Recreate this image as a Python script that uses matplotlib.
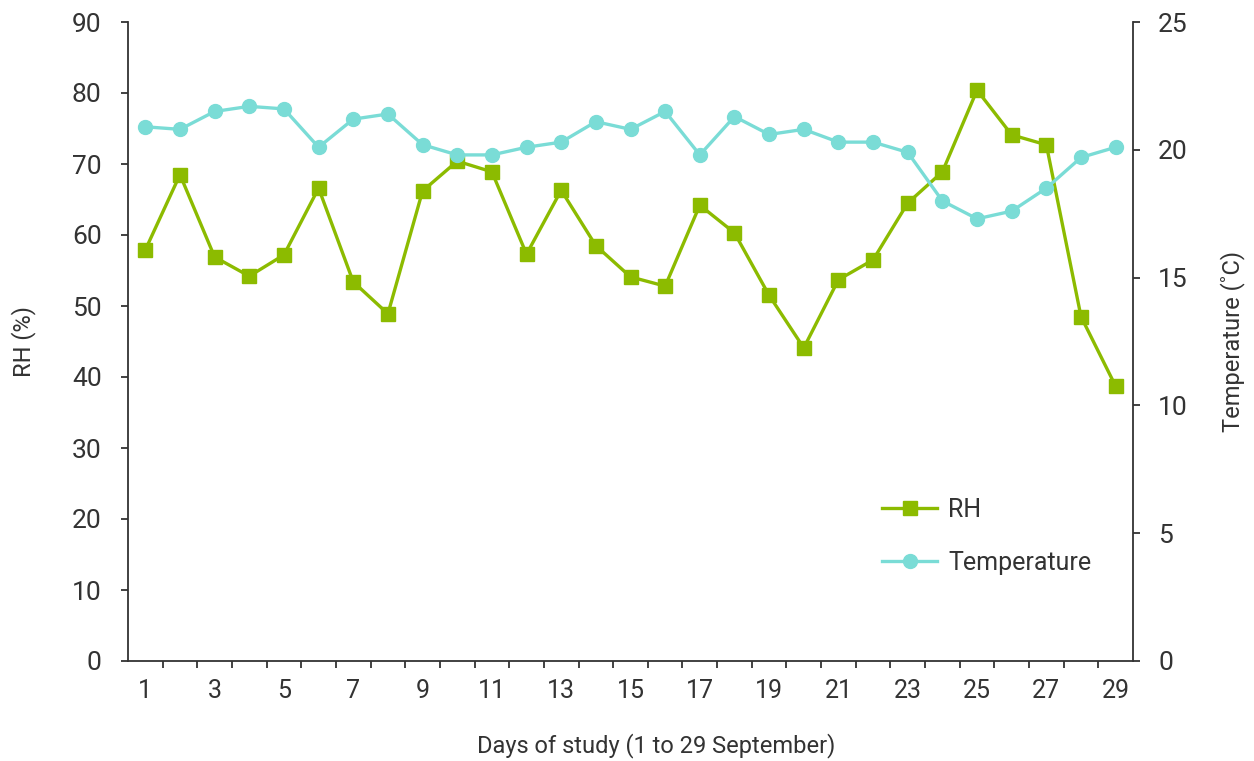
import matplotlib
matplotlib.use("Agg")
import matplotlib.pyplot as plt
import numpy as np

plt.rcParams['font.family'] = ['Roboto', 'DejaVu Sans']

# data
days = list(range(1, 30))
rh = [57.9, 68.5, 56.9, 54.2, 57.2, 66.6, 53.4, 48.9, 66.2, 70.4,
      68.9, 57.3, 66.3, 58.5, 54.1, 52.8, 64.2, 60.3, 51.5, 44.1,
      53.7, 56.5, 64.5, 68.9, 80.4, 74.1, 72.7, 48.5, 38.7]
temp = [20.9, 20.8, 21.5, 21.7, 21.6, 20.1, 21.2, 21.4, 20.2, 19.8,
        19.8, 20.1, 20.3, 21.1, 20.8, 21.5, 19.8, 21.3, 20.6, 20.8,
        20.3, 20.3, 19.9, 18.0, 17.3, 17.6, 18.5, 19.7, 20.1]
day_labels = [str(d) for d in range(1, 30, 2)]

green = '#8cbb00'
cyan = '#7adcd6'
dark = '#333333'

fig = plt.figure(figsize=(12.54, 7.61), dpi=100)
ax = fig.add_axes([128/1254, 1 - 661/761, (1133 - 128)/1254, (661 - 22)/761])
ax2 = ax.twinx()

l1, = ax.plot(days, rh, color=green, lw=2.4, marker='s', ms=10,
              label='RH', clip_on=False)
l2, = ax2.plot(days, temp, color=cyan, lw=2.4, marker='o', ms=10,
               label='Temperature', clip_on=False)

ax.set_xlim(0.5, 29.5)
ax.set_ylim(0, 90)
ax2.set_ylim(0, 25)
ax.set_yticks(range(0, 91, 10))
ax2.set_yticks(range(0, 26, 5))
ax.set_xticks(range(1, 30, 2))
ax.set_xticklabels(day_labels)
ax.set_xticks(np.arange(1.5, 29.5, 1), minor=True)

for a in (ax, ax2):
    for s in a.spines.values():
        s.set_color(dark)
        s.set_linewidth(1.3)
    a.spines['top'].set_visible(False)
ax.spines['right'].set_visible(False)
ax2.spines['left'].set_visible(False)
ax2.spines['bottom'].set_visible(False)

ax.tick_params(axis='x', which='major', length=0, pad=13, labelsize=18, colors=dark)
ax.tick_params(axis='x', which='minor', length=5, width=1.3, color=dark)
ax.tick_params(axis='y', length=5, width=1.3, pad=14, labelsize=19, colors=dark)
ax2.tick_params(axis='y', length=5, width=1.3, pad=13, labelsize=19, colors=dark)

ax.set_ylabel('RH (%)', fontsize=17, color=dark)
ax.yaxis.set_label_coords(-0.092, 0.5)
ax2.set_ylabel('Temperature (˚C)', fontsize=17, color=dark)
ax2.yaxis.set_label_coords(1.087, 0.5)
ax.set_xlabel('Days of study (1 to 29 September)', fontsize=17, color=dark)
ax.xaxis.set_label_coords(0.526, -0.113)

fig.legend(handles=[l1, l2], loc='center left', frameon=False,
           bbox_to_anchor=(882/1254, 1 - 536.5/761), borderpad=0, borderaxespad=0,
           fontsize=18, handlelength=2.2, handletextpad=0.45, labelspacing=1.15,
           labelcolor=dark)

fig.savefig('out.png', dpi=100)
